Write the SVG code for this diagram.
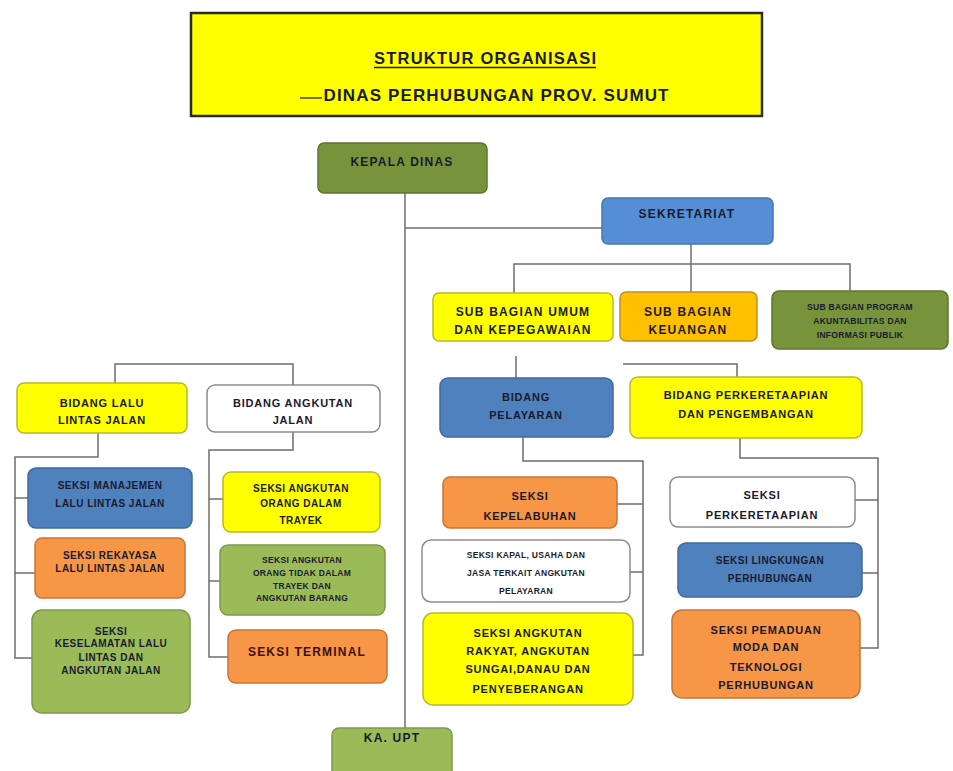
<svg xmlns="http://www.w3.org/2000/svg" width="953" height="771" viewBox="0 0 953 771">
<style>
text{font-family:"Liberation Sans",Arial,sans-serif;font-weight:bold;fill:#1a1a2e;text-anchor:middle}
.t12{font-size:12px;letter-spacing:1.2px}
.t11{font-size:11px;letter-spacing:0.8px}
.t10{font-size:10px;letter-spacing:0.5px}
.t9{font-size:8.5px;letter-spacing:0.3px}
.yel{fill:#FFFF00;stroke:#B8B830;stroke-width:1.5}
.olv{fill:#77933C;stroke:#5E7530;stroke-width:1.5}
.blu{fill:#4F81BD;stroke:#3F6AA0;stroke-width:1.5}
.sky{fill:#558ED5;stroke:#4575B0;stroke-width:1.5}
.org{fill:#F79646;stroke:#C87535;stroke-width:1.5}
.gld{fill:#FFC000;stroke:#C09020;stroke-width:1.5}
.grn{fill:#9BBB59;stroke:#7E9A48;stroke-width:1.5}
.wht{fill:#FFFFFF;stroke:#8C8C8C;stroke-width:1.5}
.ln{fill:none;stroke:#6E6E6E;stroke-width:1.5}
</style>
<rect width="953" height="771" fill="#FFFFFF"/>

<g id="title">
<rect x="191" y="13" width="571" height="103" fill="#FFFF00" stroke="#2B2B2B" stroke-width="2.5"/>
<text x="485" y="64" font-size="16.5" textLength="222" lengthAdjust="spacing">STRUKTUR ORGANISASI</text>
<line x1="374" y1="67.5" x2="596" y2="67.5" stroke="#1a1a2e" stroke-width="1.3"/>
<text x="496" y="101" font-size="17" textLength="345" lengthAdjust="spacing">DINAS PERHUBUNGAN PROV. SUMUT</text>
<line x1="300" y1="98" x2="322" y2="98" stroke="#1a1a2e" stroke-width="1.2"/>
</g>

<g id="connectors">
<path class="ln" d="M405,193 V728"/>
<path class="ln" d="M405,228 H602"/>
<path class="ln" d="M691,244 V292"/>
<path class="ln" d="M514,293 V264 H850 V292"/>
<path class="ln" d="M115,383 V364 H293 V385"/>
<path class="ln" d="M98,433 V457 H15 V658 H32"/>
<path class="ln" d="M15,498 H28"/>
<path class="ln" d="M15,573 H35"/>
<path class="ln" d="M293,432 V450 H209 V657 H228"/>
<path class="ln" d="M209,499 H223"/>
<path class="ln" d="M209,581 H220"/>
<path class="ln" d="M516,356 V378"/>
<path class="ln" d="M623,364 H737 V377"/>
<path class="ln" d="M523,437 V461 H643 V655 H633"/>
<path class="ln" d="M643,504 H617"/>
<path class="ln" d="M643,572 H630"/>
<path class="ln" d="M740,438 V458 H878 V648 H860"/>
<path class="ln" d="M878,500 H855"/>
<path class="ln" d="M878,573 H862"/>
</g>

<g id="kepala-dinas">
<rect class="olv" x="318" y="143" width="169" height="50" rx="6"/>
<text class="t12" x="402" y="166">KEPALA DINAS</text>
</g>

<g id="sekretariat">
<rect class="sky" x="602" y="198" width="171" height="46" rx="6"/>
<text class="t12" x="687" y="218">SEKRETARIAT</text>
</g>

<g id="sub-bagian-umum">
<rect class="yel" x="433" y="293" width="180" height="48" rx="6"/>
<text class="t12" x="523" y="316">SUB BAGIAN UMUM</text>
<text class="t12" x="523" y="334">DAN KEPEGAWAIAN</text>
</g>

<g id="sub-bagian-keuangan">
<rect class="gld" x="620" y="292" width="137" height="49" rx="6"/>
<text class="t12" x="688" y="316">SUB BAGIAN</text>
<text class="t12" x="688" y="334">KEUANGAN</text>
</g>

<g id="sub-bagian-program">
<rect class="olv" x="772" y="291" width="176" height="58" rx="7"/>
<text class="t9" x="860" y="310">SUB BAGIAN PROGRAM</text>
<text class="t9" x="860" y="324">AKUNTABILITAS DAN</text>
<text class="t9" x="860" y="338">INFORMASI PUBLIK</text>
</g>

<g id="bidang-lalu-lintas">
<rect class="yel" x="17" y="383" width="170" height="50" rx="7"/>
<text class="t11" x="102" y="407">BIDANG LALU</text>
<text class="t11" x="102" y="424">LINTAS JALAN</text>
</g>

<g id="bidang-angkutan-jalan">
<rect class="wht" x="207" y="385" width="173" height="47" rx="8"/>
<text class="t11" x="293" y="407">BIDANG ANGKUTAN</text>
<text class="t11" x="293" y="424">JALAN</text>
</g>

<g id="seksi-manajemen">
<rect class="blu" x="28" y="468" width="164" height="60" rx="8"/>
<text class="t10" x="110" y="489">SEKSI MANAJEMEN</text>
<text class="t10" x="110" y="507">LALU LINTAS JALAN</text>
</g>

<g id="seksi-rekayasa">
<rect class="org" x="35" y="538" width="150" height="60" rx="7"/>
<text class="t10" x="110" y="559">SEKSI REKAYASA</text>
<text class="t10" x="110" y="572">LALU LINTAS JALAN</text>
</g>

<g id="seksi-keselamatan">
<rect class="grn" x="32" y="610" width="158" height="103" rx="10"/>
<text class="t10" x="111" y="635">SEKSI</text>
<text class="t10" x="111" y="647">KESELAMATAN LALU</text>
<text class="t10" x="111" y="661">LINTAS DAN</text>
<text class="t10" x="111" y="674">ANGKUTAN JALAN</text>
</g>

<g id="seksi-angkutan-dalam-trayek">
<rect class="yel" x="223" y="472" width="157" height="60" rx="8"/>
<text class="t10" x="301" y="492">SEKSI ANGKUTAN</text>
<text class="t10" x="301" y="507">ORANG DALAM</text>
<text class="t10" x="301" y="524">TRAYEK</text>
</g>

<g id="seksi-angkutan-tidak-dalam-trayek">
<rect class="grn" x="220" y="545" width="165" height="70" rx="8"/>
<text class="t9" x="302" y="563">SEKSI ANGKUTAN</text>
<text class="t9" x="302" y="576">ORANG TIDAK DALAM</text>
<text class="t9" x="302" y="589">TRAYEK DAN</text>
<text class="t9" x="302" y="601">ANGKUTAN BARANG</text>
</g>

<g id="seksi-terminal">
<rect class="org" x="228" y="630" width="159" height="53" rx="8"/>
<text class="t12" x="307" y="656" style="fill:#3a1010">SEKSI TERMINAL</text>
</g>

<g id="ka-upt">
<rect class="grn" x="332" y="728" width="120" height="50" rx="7"/>
<text class="t12" x="392" y="742">KA. UPT</text>
</g>

<g id="bidang-pelayaran">
<rect class="blu" x="440" y="378" width="173" height="59" rx="8"/>
<text class="t11" x="526" y="401">BIDANG</text>
<text class="t11" x="526" y="419">PELAYARAN</text>
</g>

<g id="seksi-kepelabuhan">
<rect class="org" x="443" y="477" width="174" height="51" rx="7"/>
<text class="t11" x="530" y="500">SEKSI</text>
<text class="t11" x="530" y="520">KEPELABUHAN</text>
</g>

<g id="seksi-kapal">
<rect class="wht" x="422" y="540" width="208" height="62" rx="9"/>
<text class="t9" x="526" y="558">SEKSI KAPAL, USAHA DAN</text>
<text class="t9" x="526" y="576">JASA TERKAIT ANGKUTAN</text>
<text class="t9" x="526" y="594">PELAYARAN</text>
</g>

<g id="seksi-angkutan-rakyat">
<rect class="yel" x="423" y="613" width="210" height="92" rx="10"/>
<text class="t11" x="528" y="637">SEKSI ANGKUTAN</text>
<text class="t11" x="528" y="655">RAKYAT, ANGKUTAN</text>
<text class="t11" x="528" y="673">SUNGAI,DANAU DAN</text>
<text class="t11" x="528" y="693">PENYEBERANGAN</text>
</g>

<g id="bidang-perkeretaapian">
<rect class="yel" x="630" y="377" width="232" height="61" rx="8"/>
<text class="t11" x="746" y="399">BIDANG PERKERETAAPIAN</text>
<text class="t11" x="746" y="418">DAN PENGEMBANGAN</text>
</g>

<g id="seksi-perkeretaapian">
<rect class="wht" x="670" y="477" width="185" height="50" rx="8"/>
<text class="t11" x="762" y="499">SEKSI</text>
<text class="t11" x="762" y="519">PERKERETAAPIAN</text>
</g>

<g id="seksi-lingkungan">
<rect class="blu" x="678" y="543" width="184" height="54" rx="8"/>
<text class="t10" x="770" y="564">SEKSI LINGKUNGAN</text>
<text class="t10" x="770" y="582">PERHUBUNGAN</text>
</g>

<g id="seksi-pemaduan">
<rect class="org" x="672" y="610" width="188" height="88" rx="10"/>
<text class="t11" x="766" y="634">SEKSI PEMADUAN</text>
<text class="t11" x="766" y="651">MODA DAN</text>
<text class="t11" x="766" y="671">TEKNOLOGI</text>
<text class="t11" x="766" y="689">PERHUBUNGAN</text>
</g>
</svg>
